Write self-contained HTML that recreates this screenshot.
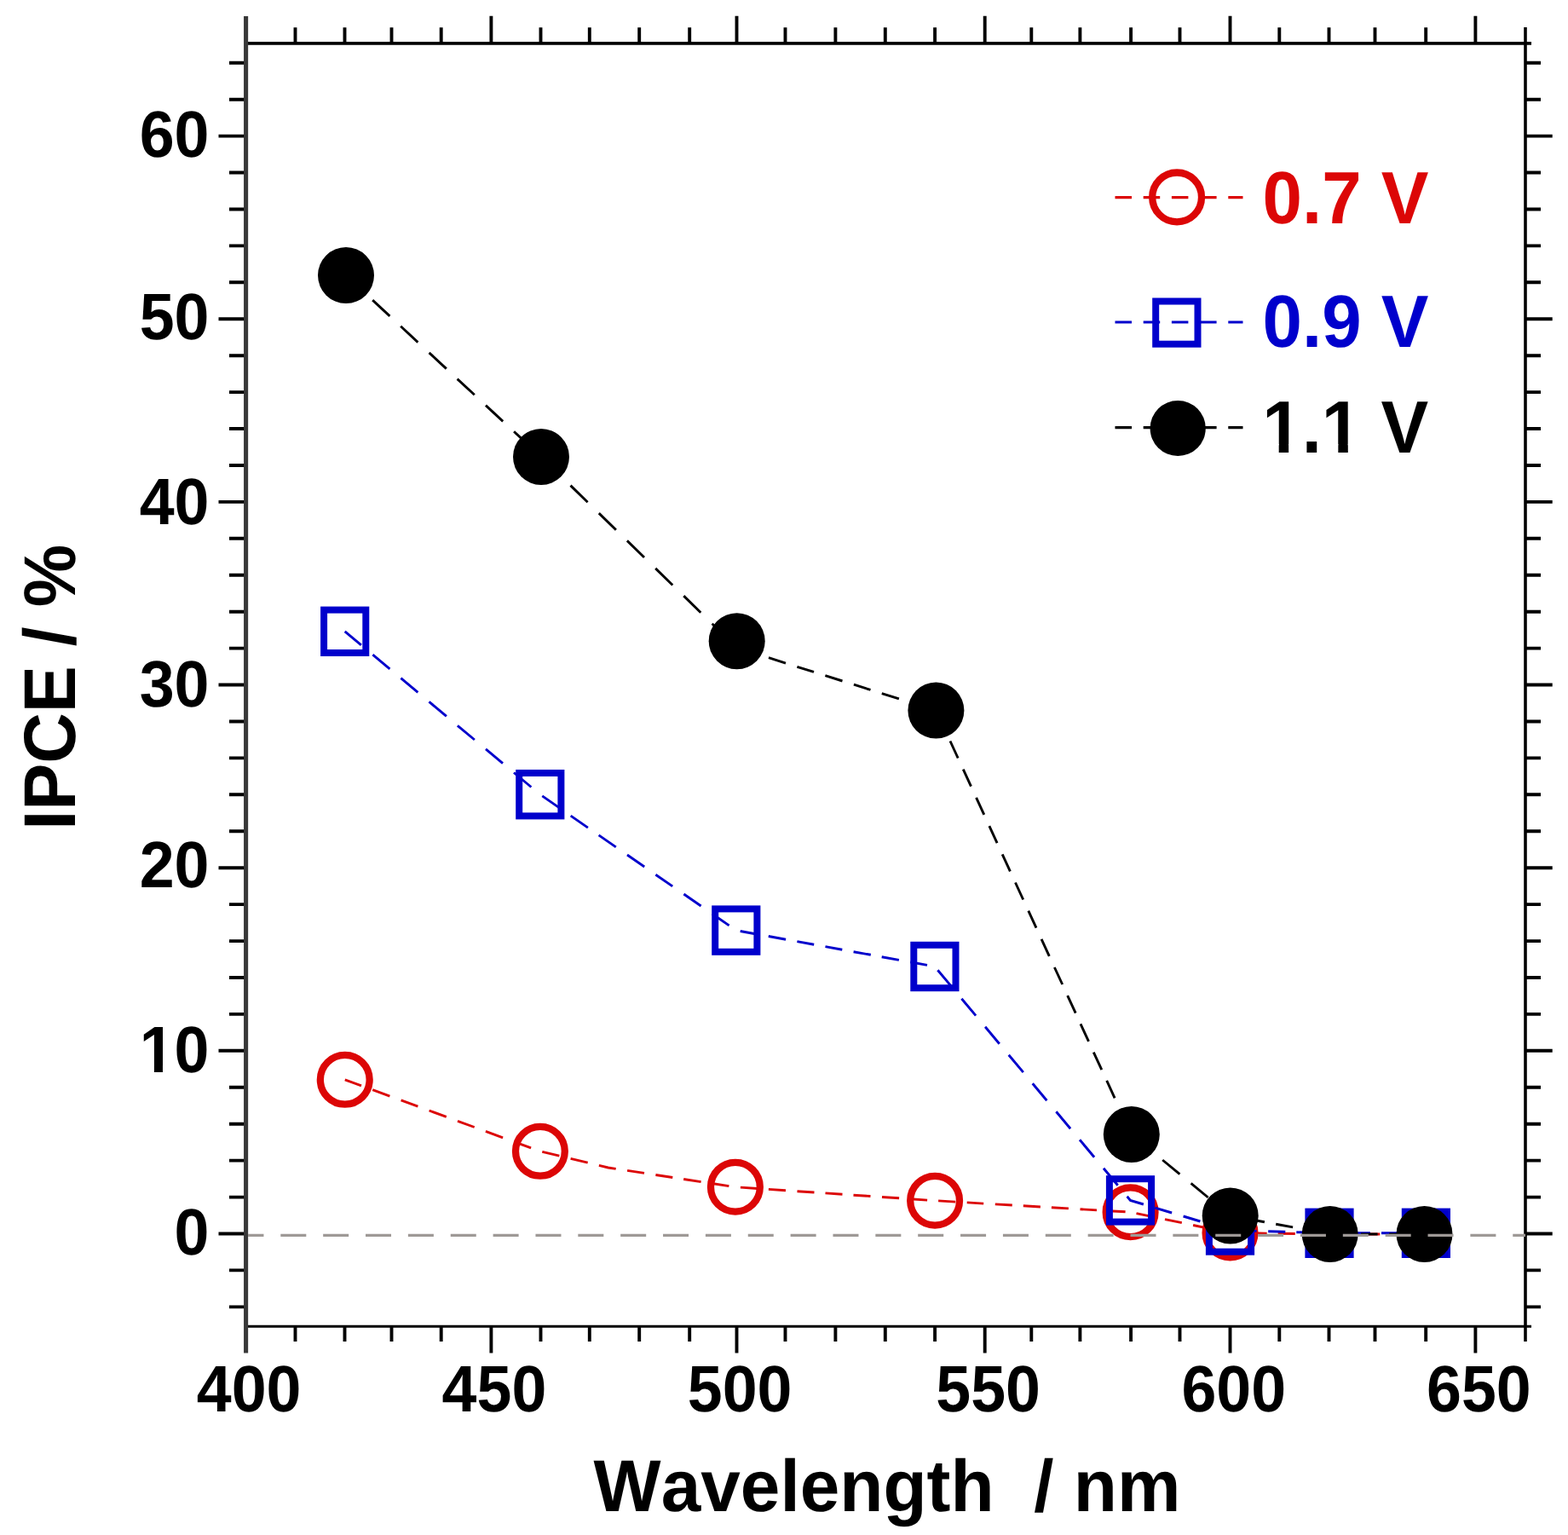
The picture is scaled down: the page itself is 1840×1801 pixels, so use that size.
<!DOCTYPE html>
<html lang="en"><head><meta charset="utf-8"><title>IPCE vs Wavelength</title>
<style>html,body{margin:0;padding:0;background:#fff;overflow:hidden}svg{display:block}text{font-kerning:none;font-variant-ligatures:none}</style></head>
<body>
<svg width="1840" height="1801" viewBox="0 0 1840 1801"><defs><clipPath id="c0" clipPathUnits="userSpaceOnUse"><rect x="-1000" y="-1000" width="3000" height="991.54"/><rect x="-1000.00" y="-8.96" width="1003.85" height="1000"/><rect x="17.97" y="-8.96" width="10.56" height="1000"/><rect x="41.68" y="-8.96" width="2958.32" height="1000"/></clipPath><clipPath id="c1" clipPathUnits="userSpaceOnUse"><rect x="-1000" y="-1000" width="3000" height="990.52"/><rect x="-1000.00" y="-9.98" width="1004.48" height="1000"/><rect x="20.31" y="-9.98" width="11.94" height="1000"/><rect x="46.96" y="-9.98" width="30.07" height="1000"/><rect x="92.86" y="-9.98" width="11.94" height="1000"/><rect x="119.52" y="-9.98" width="2880.48" height="1000"/></clipPath></defs>
<rect x="0" y="0" width="1840" height="1801" fill="#fff"/>
<path d="M346.5,1556.0V1574.0M346.5,50.8V32.3M404.5,1556.0V1574.0M404.5,50.8V32.3M459.5,1556.0V1574.0M459.5,50.8V32.3M517.7,1556.0V1574.0M517.7,50.8V32.3M576.4,1556.0V1587.5M576.4,50.8V18.799999999999997M634.5,1556.0V1574.0M634.5,50.8V32.3M691.8,1556.0V1574.0M691.8,50.8V32.3M750.2,1556.0V1574.0M750.2,50.8V32.3M809.2,1556.0V1574.0M809.2,50.8V32.3M864.5,1556.0V1587.5M864.5,50.8V18.799999999999997M921.5,1556.0V1574.0M921.5,50.8V32.3M980.4,1556.0V1574.0M980.4,50.8V32.3M1038.8,1556.0V1574.0M1038.8,50.8V32.3M1097.1,1556.0V1574.0M1097.1,50.8V32.3M1155.7,1556.0V1587.5M1155.7,50.8V18.799999999999997M1210.3,1556.0V1574.0M1210.3,50.8V32.3M1267.4,1556.0V1574.0M1267.4,50.8V32.3M1327.1,1556.0V1574.0M1327.1,50.8V32.3M1384.5,1556.0V1574.0M1384.5,50.8V32.3M1443.5,1556.0V1587.5M1443.5,50.8V18.799999999999997M1501.3,1556.0V1574.0M1501.3,50.8V32.3M1559.5,1556.0V1574.0M1559.5,50.8V32.3M1613.5,1556.0V1574.0M1613.5,50.8V32.3M1673.2,1556.0V1574.0M1673.2,50.8V32.3M1731.4,1556.0V1587.5M1731.4,50.8V18.799999999999997M288.5,1533.4H269.0M1790.0,1533.4H1808.0M288.5,1490.4H269.0M1790.0,1490.4H1808.0M288.5,1447.5H256.5M1790.0,1447.5H1821.7M288.5,1404.6H269.0M1790.0,1404.6H1808.0M288.5,1361.6H269.0M1790.0,1361.6H1808.0M288.5,1318.7H269.0M1790.0,1318.7H1808.0M288.5,1275.8H269.0M1790.0,1275.8H1808.0M288.5,1232.8H256.5M1790.0,1232.8H1821.7M288.5,1189.9H269.0M1790.0,1189.9H1808.0M288.5,1147.0H269.0M1790.0,1147.0H1808.0M288.5,1104.1H269.0M1790.0,1104.1H1808.0M288.5,1061.1H269.0M1790.0,1061.1H1808.0M288.5,1018.2H256.5M1790.0,1018.2H1821.7M288.5,975.3H269.0M1790.0,975.3H1808.0M288.5,932.3H269.0M1790.0,932.3H1808.0M288.5,889.4H269.0M1790.0,889.4H1808.0M288.5,846.5H269.0M1790.0,846.5H1808.0M288.5,803.5H256.5M1790.0,803.5H1821.7M288.5,760.6H269.0M1790.0,760.6H1808.0M288.5,717.7H269.0M1790.0,717.7H1808.0M288.5,674.8H269.0M1790.0,674.8H1808.0M288.5,631.8H269.0M1790.0,631.8H1808.0M288.5,588.9H256.5M1790.0,588.9H1821.7M288.5,546.0H269.0M1790.0,546.0H1808.0M288.5,503.0H269.0M1790.0,503.0H1808.0M288.5,460.1H269.0M1790.0,460.1H1808.0M288.5,417.2H269.0M1790.0,417.2H1808.0M288.5,374.2H256.5M1790.0,374.2H1821.7M288.5,331.3H269.0M1790.0,331.3H1808.0M288.5,288.4H269.0M1790.0,288.4H1808.0M288.5,245.5H269.0M1790.0,245.5H1808.0M288.5,202.5H269.0M1790.0,202.5H1808.0M288.5,159.6H256.5M1790.0,159.6H1821.7M288.5,116.7H269.0M1790.0,116.7H1808.0M288.5,73.7H269.0M1790.0,73.7H1808.0" stroke="#000" stroke-width="3.9" fill="none"/>
<line x1="1790.0" y1="32" x2="1790.0" y2="1574" stroke="#000" stroke-width="3.6"/>
<line x1="289" y1="50.8" x2="1797" y2="50.8" stroke="#000" stroke-width="3.8"/>
<line x1="289" y1="1556.3" x2="1797" y2="1556.3" stroke="#000" stroke-width="3.1"/>
<line x1="288.6" y1="19" x2="288.6" y2="1587.5" stroke="#383838" stroke-width="5.1"/>
<text transform="translate(204.62,1472.20) scale(0.955,1)" x="0" y="0" font-family="'Liberation Sans', Arial, Helvetica, sans-serif" font-weight="bold" text-rendering="geometricPrecision" font-size="77" fill="#000" xml:space="preserve">0</text>
<text transform="translate(163.72,1258.15) scale(0.955,1)" x="0" y="0" font-family="'Liberation Sans', Arial, Helvetica, sans-serif" font-weight="bold" text-rendering="geometricPrecision" font-size="77" fill="#000" clip-path="url(#c0)" xml:space="preserve">10</text>
<text transform="translate(163.72,1041.05) scale(0.955,1)" x="0" y="0" font-family="'Liberation Sans', Arial, Helvetica, sans-serif" font-weight="bold" text-rendering="geometricPrecision" font-size="77" fill="#000" xml:space="preserve">20</text>
<text transform="translate(163.72,828.60) scale(0.955,1)" x="0" y="0" font-family="'Liberation Sans', Arial, Helvetica, sans-serif" font-weight="bold" text-rendering="geometricPrecision" font-size="77" fill="#000" xml:space="preserve">30</text>
<text transform="translate(163.72,614.65) scale(0.955,1)" x="0" y="0" font-family="'Liberation Sans', Arial, Helvetica, sans-serif" font-weight="bold" text-rendering="geometricPrecision" font-size="77" fill="#000" xml:space="preserve">40</text>
<text transform="translate(163.72,398.40) scale(0.955,1)" x="0" y="0" font-family="'Liberation Sans', Arial, Helvetica, sans-serif" font-weight="bold" text-rendering="geometricPrecision" font-size="77" fill="#000" xml:space="preserve">50</text>
<text transform="translate(163.72,183.75) scale(0.955,1)" x="0" y="0" font-family="'Liberation Sans', Arial, Helvetica, sans-serif" font-weight="bold" text-rendering="geometricPrecision" font-size="77" fill="#000" xml:space="preserve">60</text>
<text transform="translate(230.81,1656.35) scale(0.955,1)" x="0" y="0" font-family="'Liberation Sans', Arial, Helvetica, sans-serif" font-weight="bold" text-rendering="geometricPrecision" font-size="77" fill="#000" xml:space="preserve">400</text>
<text transform="translate(518.61,1656.35) scale(0.955,1)" x="0" y="0" font-family="'Liberation Sans', Arial, Helvetica, sans-serif" font-weight="bold" text-rendering="geometricPrecision" font-size="77" fill="#000" xml:space="preserve">450</text>
<text transform="translate(806.73,1656.35) scale(0.955,1)" x="0" y="0" font-family="'Liberation Sans', Arial, Helvetica, sans-serif" font-weight="bold" text-rendering="geometricPrecision" font-size="77" fill="#000" xml:space="preserve">500</text>
<text transform="translate(1098.33,1656.35) scale(0.955,1)" x="0" y="0" font-family="'Liberation Sans', Arial, Helvetica, sans-serif" font-weight="bold" text-rendering="geometricPrecision" font-size="77" fill="#000" xml:space="preserve">550</text>
<text transform="translate(1386.42,1656.35) scale(0.955,1)" x="0" y="0" font-family="'Liberation Sans', Arial, Helvetica, sans-serif" font-weight="bold" text-rendering="geometricPrecision" font-size="77" fill="#000" xml:space="preserve">600</text>
<text transform="translate(1674.02,1656.35) scale(0.955,1)" x="0" y="0" font-family="'Liberation Sans', Arial, Helvetica, sans-serif" font-weight="bold" text-rendering="geometricPrecision" font-size="77" fill="#000" xml:space="preserve">650</text>
<text transform="translate(696.60,1772.50) scale(0.974,1)" x="0" y="0" font-family="'Liberation Sans', Arial, Helvetica, sans-serif" font-weight="bold" text-rendering="geometricPrecision" font-size="86" fill="#000" xml:space="preserve">Wavelength  / nm</text>
<text transform="translate(87.70,973.80) rotate(-90) scale(0.96,1)" x="0" y="0" font-family="'Liberation Sans', Arial, Helvetica, sans-serif" font-weight="bold" text-rendering="geometricPrecision" font-size="86" fill="#000" xml:space="preserve">IPCE / %</text>
<path d="M404.8,1266.8 L424.0,1273.9 M437.2,1278.7 L457.4,1286.1 M470.6,1290.9 L490.4,1298.2 M503.6,1303.0 L523.8,1310.4 M537.0,1315.3 L556.7,1322.5 M569.9,1327.3 L590.1,1334.8 M603.3,1339.6 L623.1,1346.8 M636.3,1351.4 L656.4,1356.2 M669.6,1359.4 L689.7,1364.2 M702.9,1367.4 L713.7,1370.0 L722.7,1371.4 M736.1,1373.4 L756.0,1376.4 M769.4,1378.5 L789.3,1381.5 M802.2,1383.5 L822.6,1386.6 M835.5,1388.5 L855.4,1391.6 M868.9,1393.1 L888.9,1394.5 M901.9,1395.4 L922.0,1396.7 M935.5,1397.7 L955.5,1399.0 M968.5,1399.9 L988.5,1401.3 M1001.5,1402.2 L1021.5,1403.5 M1035.0,1404.5 L1055.1,1405.8 M1068.1,1406.7 L1088.1,1408.1 M1101.1,1408.9 L1121.2,1410.1 M1134.7,1410.9 L1154.2,1412.1 M1167.8,1412.9 L1187.8,1414.0 M1200.8,1414.8 L1220.9,1416.0 M1233.9,1416.7 L1253.9,1417.9 M1267.5,1418.7 L1287.0,1419.9 M1300.5,1420.7 L1320.6,1421.8 M1333.5,1423.6 L1353.7,1427.8 M1367.0,1430.6 L1386.8,1434.7 M1400.1,1437.5 L1419.8,1441.6 M1433.1,1444.3 L1443.5,1446.5 L1453.0,1446.6 M1466.6,1446.8 L1486.7,1447.1 M1499.7,1447.2 L1519.8,1447.5 M1532.9,1447.7 L1553.0,1447.9 M1566.0,1448.0 L1586.1,1448.0 M1599.2,1448.0 L1619.3,1448.0 M1632.3,1448.0 L1652.4,1448.0 M1665.5,1448.0 L1672.0,1448.0" fill="none" stroke="#dc0606" stroke-width="2.9" stroke-linecap="butt" stroke-linejoin="miter"/>
<circle cx="404.75" cy="1266.8" r="28.9" fill="none" stroke="#dc0606" stroke-width="8.3"/>
<circle cx="633.9" cy="1350.8" r="28.9" fill="none" stroke="#dc0606" stroke-width="8.3"/>
<circle cx="862.9" cy="1392.7" r="28.9" fill="none" stroke="#dc0606" stroke-width="8.3"/>
<circle cx="1097.1" cy="1408.7" r="28.9" fill="none" stroke="#dc0606" stroke-width="8.3"/>
<circle cx="1326.6" cy="1422.2" r="28.9" fill="none" stroke="#dc0606" stroke-width="8.3"/>
<circle cx="1443.5" cy="1446.5" r="28.9" fill="none" stroke="#dc0606" stroke-width="8.3"/>
<circle cx="1560.7" cy="1448" r="27.5" fill="none" stroke="#dc0606" stroke-width="8"/>
<circle cx="1671.5" cy="1448" r="27.5" fill="none" stroke="#dc0606" stroke-width="8"/>
<path d="M404.7,740.8 L423.9,756.9 M437.4,768.1 L457.4,784.8 M470.4,795.7 L490.4,812.4 M503.5,823.3 L523.9,840.4 M536.9,851.3 L556.9,868.0 M570.0,878.9 L590.0,895.6 M603.0,906.5 L623.4,923.5 M636.3,933.9 L656.5,947.9 M669.7,957.1 L689.9,971.1 M702.6,979.9 L722.8,993.9 M736.0,1003.0 L756.2,1017.0 M769.4,1026.2 L789.2,1039.9 M802.4,1049.0 L822.6,1063.0 M835.8,1072.2 L855.6,1085.9 M868.7,1092.5 L889.0,1096.2 M901.8,1098.5 L922.1,1102.2 M935.4,1104.6 L955.2,1108.2 M968.5,1110.6 L988.3,1114.2 M1001.6,1116.7 L1021.8,1120.3 M1034.7,1122.7 L1054.9,1126.4 M1068.3,1128.8 L1088.0,1132.4 M1100.4,1138.2 L1117.5,1158.6 M1128.4,1171.7 L1145.1,1191.6 M1156.1,1204.7 L1172.8,1224.7 M1183.7,1237.8 L1200.8,1258.1 M1211.7,1271.2 L1228.4,1291.2 M1239.4,1304.3 L1256.1,1324.2 M1267.0,1337.3 L1284.1,1357.7 M1295.0,1370.7 L1311.7,1390.7 M1322.6,1403.8 L1326.5,1408.4 L1341.9,1413.0 M1355.4,1417.1 L1375.1,1423.0 M1388.6,1427.0 L1408.4,1433.0 M1421.8,1437.0 L1441.6,1442.9 M1455.0,1443.8 L1474.6,1444.4 M1488.2,1444.8 L1508.3,1445.3 M1521.3,1445.7 L1541.4,1446.3 M1554.5,1446.6 L1574.6,1446.8 M1587.7,1446.8 L1607.9,1446.8 M1621.0,1446.8 L1640.6,1446.8 M1654.2,1446.8 L1673.4,1446.8" fill="none" stroke="#0000cc" stroke-width="2.9" stroke-linecap="butt" stroke-linejoin="miter"/>
<rect x="380.10" y="715.60" width="49.20" height="50.40" fill="none" stroke="#0000cc" stroke-width="8.0"/>
<rect x="609.20" y="907.00" width="49.20" height="50.40" fill="none" stroke="#0000cc" stroke-width="8.0"/>
<rect x="839.20" y="1066.40" width="49.20" height="50.40" fill="none" stroke="#0000cc" stroke-width="8.0"/>
<rect x="1072.30" y="1108.80" width="49.20" height="50.40" fill="none" stroke="#0000cc" stroke-width="8.0"/>
<rect x="1301.90" y="1383.20" width="49.20" height="50.40" fill="none" stroke="#0000cc" stroke-width="8.0"/>
<rect x="1418.90" y="1418.30" width="49.20" height="50.40" fill="none" stroke="#0000cc" stroke-width="8.0"/>
<rect x="1535.40" y="1421.60" width="49.20" height="50.40" fill="none" stroke="#0000cc" stroke-width="8.0"/>
<rect x="1648.80" y="1421.60" width="49.20" height="50.40" fill="none" stroke="#0000cc" stroke-width="8.0"/>
<path d="M406.0,323.1 L424.0,339.8 M437.2,352.1 L457.4,370.9 M470.2,382.8 L490.4,401.6 M503.6,413.9 L523.8,432.6 M536.6,444.6 L556.8,463.3 M570.0,475.6 L590.2,494.4 M603.1,506.3 L623.3,525.1 M636.4,537.4 L656.5,557.0 M669.5,569.6 L689.6,589.2 M702.8,602.1 L722.9,621.8 M735.9,634.4 L756.0,654.0 M769.2,666.9 L789.3,686.5 M802.3,699.1 L822.3,718.7 M835.6,731.7 L855.7,751.2 M869.0,761.4 L889.1,767.7 M902.0,771.7 L922.0,778.1 M935.4,782.3 L955.0,788.4 M968.4,792.7 L988.5,799.0 M1001.9,803.2 L1021.5,809.4 M1034.8,813.6 L1054.9,819.9 M1067.8,824.0 L1087.9,830.3 M1099.7,836.3 L1108.9,856.3 M1115.0,869.5 L1124.2,889.5 M1130.3,902.7 L1139.5,922.7 M1145.6,935.9 L1154.8,955.9 M1160.9,969.1 L1170.1,989.1 M1176.2,1002.3 L1185.4,1022.3 M1191.5,1035.5 L1200.7,1055.5 M1206.8,1068.7 L1216.0,1088.7 M1222.1,1101.9 L1231.3,1121.9 M1237.4,1135.0 L1246.7,1155.0 M1252.7,1168.2 L1262.2,1188.7 M1268.0,1201.4 L1277.5,1221.9 M1283.3,1234.6 L1292.8,1255.1 M1298.7,1267.8 L1308.1,1288.3 M1314.2,1301.4 L1323.4,1321.5 M1331.3,1333.9 L1351.4,1350.5 M1364.2,1361.0 L1384.4,1377.6 M1397.6,1388.4 L1417.7,1405.0 M1430.9,1415.9 L1443.7,1426.4 L1450.6,1427.7 M1464.0,1430.2 L1483.9,1433.8 M1497.2,1436.3 L1517.1,1439.9 M1530.5,1442.4 L1550.3,1446.1 M1563.7,1448.0 L1583.9,1448.0 M1597.0,1448.0 L1616.6,1448.0 M1630.2,1448.0 L1649.8,1448.0 M1663.4,1448.0 L1671.5,1448.0" fill="none" stroke="#000000" stroke-width="2.9" stroke-linecap="butt" stroke-linejoin="miter"/>
<circle cx="406" cy="323.1" r="33.0" fill="#000000"/>
<circle cx="635" cy="536" r="33.0" fill="#000000"/>
<circle cx="864.7" cy="752.2" r="33.0" fill="#000000"/>
<circle cx="1098.4" cy="833.6" r="33.0" fill="#000000"/>
<circle cx="1327.8" cy="1331" r="33.0" fill="#000000"/>
<circle cx="1443.7" cy="1426.4" r="33.0" fill="#000000"/>
<circle cx="1560.7" cy="1448" r="33.0" fill="#000000"/>
<circle cx="1671.5" cy="1448" r="33.0" fill="#000000"/>
<path d="M1308.5,231.6H1328.0M1341.7,231.6H1361.2M1374.9,231.6H1394.4M1408.1,231.6H1427.6M1441.3,231.6H1458.5" stroke="#dc0606" stroke-width="3.2" fill="none"/>
<circle cx="1381.1" cy="231.4" r="28.9" fill="none" stroke="#dc0606" stroke-width="8.3"/>
<text transform="translate(1481.50,261.90) scale(0.96,1)" x="0" y="0" font-family="'Liberation Sans', Arial, Helvetica, sans-serif" font-weight="bold" text-rendering="geometricPrecision" font-size="87" fill="#dc0606" xml:space="preserve">0.7 V</text>
<path d="M1308.5,378.0H1328.0M1341.7,378.0H1361.2M1374.9,378.0H1394.4M1408.1,378.0H1427.6M1441.3,378.0H1458.5" stroke="#0000cc" stroke-width="3.2" fill="none"/>
<rect x="1356.20" y="353.50" width="49.30" height="50.20" fill="none" stroke="#0000cc" stroke-width="8.0"/>
<text transform="translate(1481.50,407.40) scale(0.96,1)" x="0" y="0" font-family="'Liberation Sans', Arial, Helvetica, sans-serif" font-weight="bold" text-rendering="geometricPrecision" font-size="87" fill="#0000cc" xml:space="preserve">0.9 V</text>
<path d="M1308.5,501.6H1328.0M1341.7,501.6H1361.2M1374.9,501.6H1394.4M1408.1,501.6H1427.6M1441.3,501.6H1458.5" stroke="#000000" stroke-width="3.2" fill="none"/>
<circle cx="1382.2" cy="502.5" r="32.6" fill="#000000"/>
<text transform="translate(1481.20,530.50) scale(0.96,1)" x="0" y="0" font-family="'Liberation Sans', Arial, Helvetica, sans-serif" font-weight="bold" text-rendering="geometricPrecision" font-size="87" fill="#000000" clip-path="url(#c1)" xml:space="preserve">1.1 V</text>
<line x1="291" y1="1449.3" x2="1790" y2="1449.3" stroke="#9e9996" stroke-width="3.2" stroke-dasharray="30 19.86" stroke-dashoffset="11.55"/></svg>
</body></html>
